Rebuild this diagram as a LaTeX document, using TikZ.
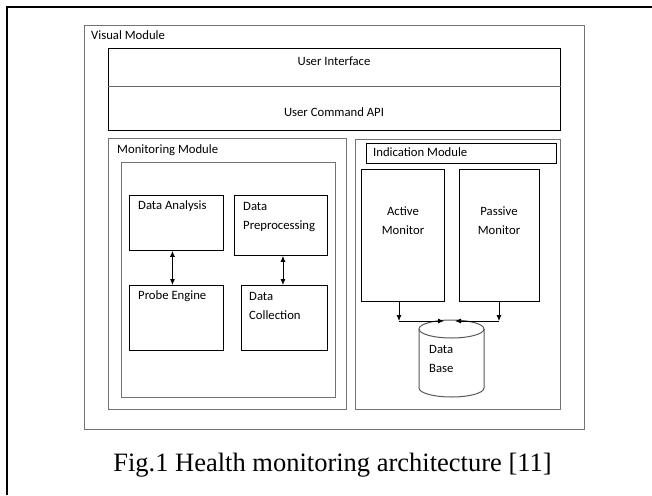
\documentclass[tikz,border=0pt]{standalone}
\usepackage{fontspec}
\newfontfamily\calfont{Carlito}
\newfontfamily\capfont{Liberation Serif}
\usetikzlibrary{arrows.meta}
\begin{document}
\begin{tikzpicture}[x=1pt,y=-1pt,
  box/.style={draw=black, line width=0.9pt, rectangle, inner sep=0pt, anchor=north west},
  grbox/.style={draw=black!55, line width=1.3pt, rectangle, inner sep=0pt, anchor=north west},
  lbl/.style={font=\calfont\fontsize{12.7}{19}\selectfont, inner sep=0pt},
  arr/.style={line width=0.8pt, -{Latex[length=6pt,width=5pt]}},
  darr/.style={line width=0.8pt, {Latex[length=6pt,width=5pt]}-{Latex[length=6pt,width=5pt]}},
  cyl/.style={draw=black!65, line width=1pt}]
\useasboundingbox (0,0) rectangle (652,495);
\fill[white] (0,0) rectangle (652,495);
\draw[line width=2pt] (6.5,495) -- (6.5,7.5) -- (652,7.5);

% Visual module
\node[grbox, minimum width=500pt, minimum height=404pt] (vis) at (84,25) {};
\node[lbl, anchor=mid west] (vislbl) at (91,37) {Visual Module};

% User interface
\node[box, minimum width=452pt, minimum height=82pt] (ui) at (108,48) {};
\draw[line width=0.9pt, black!60] ([yshift=3pt]ui.west) -- ([yshift=3pt]ui.east);
\node[lbl] (uitxt) at (334,61) {User Interface};
\node[lbl] (cmdtxt) at (334,112.5) {User Command API};

% Monitoring module
\node[grbox, minimum width=238pt, minimum height=271pt] (mon) at (108,138) {};
\node[lbl, anchor=mid west] (monlbl) at (117,151) {Monitoring Module};
\node[grbox, line width=1.1pt, minimum width=214pt, minimum height=235pt] (moninner) at (121,162) {};
\node[box, minimum width=94pt, minimum height=55pt] (da) at (129,195) {};
\node[box, minimum width=93pt, minimum height=60pt] (dp) at (234,195) {};
\node[box, minimum width=94pt, minimum height=65pt] (pe) at (129,285) {};
\node[box, minimum width=86pt, minimum height=65pt] (dc) at (241,285) {};
\node[lbl, anchor=mid west] (datxt) at (138,207) {Data Analysis};
\node[lbl, anchor=mid west] (petxt) at (138,297) {Probe Engine};
\node[lbl, anchor=north west, align=left] (dptxt) at (243,202.5) {Data\\Preprocessing};
\node[lbl, anchor=north west, align=left] (dctxt) at (249,292.5) {Data\\Collection};
\draw[darr] ([xshift=-4pt]da.south) -- ([xshift=-4pt]da.south |- pe.north);
\draw[darr] ([xshift=2pt]dp.south) -- ([xshift=2pt]dp.south |- dc.north);

% Indication module
\node[grbox, minimum width=205pt, minimum height=270pt] (ind) at (355,139) {};
\node[box, minimum width=190pt, minimum height=20pt] (indlbl) at (366,143) {};
\node[lbl, anchor=mid west] (indtxt) at (373,154) {Indication Module};
\node[box, minimum width=83pt, minimum height=132pt] (am) at (361,169) {};
\node[box, minimum width=80pt, minimum height=132pt] (pm) at (459,169) {};
\node[lbl, anchor=north, align=center] (amtxt) at (403,206.5) {Active\\Monitor};
\node[lbl, anchor=north, align=center] (pmtxt) at (499,206.5) {Passive\\Monitor};

% Database cylinder
\draw[cyl] (419,329) -- (419,388) arc[start angle=180, end angle=360, x radius=32.5pt, y radius=9pt] -- (484,329);
\draw[cyl] (451.5,329) ellipse [x radius=32.5pt, y radius=9pt];
\node[lbl, anchor=north west, align=left] (db) at (429,345.5) {Data\\Base};

\coordinate (acorner) at (399,321);
\coordinate (pcorner) at (499,321);
\coordinate (dbl) at (444,321);
\coordinate (dbr) at (455,321);
\draw[arr] (am.south -| acorner) -- (acorner);
\draw[arr] (acorner) -- (dbl);
\draw[arr] (pm.south -| pcorner) -- (pcorner);
\draw[arr] (pcorner) -- (dbr);

% Caption
\node[font=\capfont\fontsize{26.5}{30}\selectfont, inner sep=0pt] (cap) at (332.5,465.5) {Fig.1 Health monitoring architecture [11]};
\end{tikzpicture}
\end{document}
